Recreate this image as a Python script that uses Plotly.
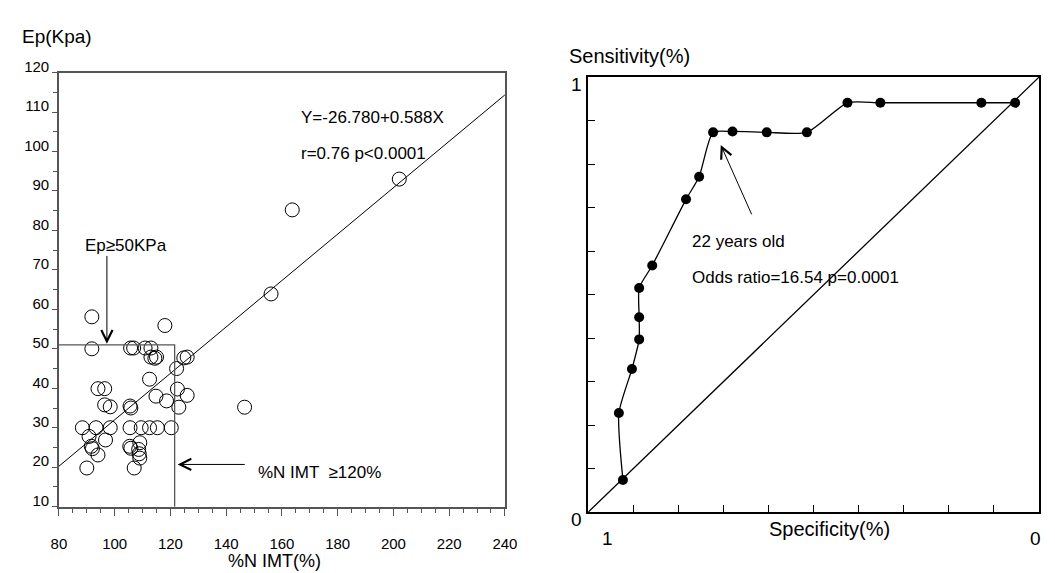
import plotly.graph_objects as go

# ---------------- data: left scatter (%N IMT vs Ep) ----------------
imt_pct = [91.8, 118.0, 91.8, 105.7, 106.8, 110.9, 113.0, 113.0, 114.4, 115.0,
           124.8, 126.0, 122.2, 112.5, 122.5, 126.0, 114.8, 118.6, 123.0, 146.6,
           94.0, 96.4, 96.4, 98.4, 105.5, 105.8, 88.4, 93.3, 98.4, 105.5,
           109.5, 112.5, 115.3, 120.3, 90.8, 96.7, 91.6, 92.0, 94.0, 105.4,
           105.8, 109.0, 108.6, 108.8, 109.0, 90.0, 107.0, 202.1, 163.7, 156.1]
ep_kpa = [58.1, 55.9, 50.0, 50.2, 50.2, 50.2, 50.2, 47.9, 47.6, 47.9,
          47.7, 47.9, 45.0, 42.3, 39.8, 38.2, 38.0, 36.8, 35.2, 35.2,
          39.9, 39.9, 35.8, 35.3, 35.5, 35.0, 30.0, 30.0, 30.0, 30.0,
          30.0, 30.0, 30.0, 30.0, 27.8, 26.9, 25.3, 24.7, 23.1, 25.3,
          24.8, 26.2, 24.5, 23.4, 22.3, 19.8, 19.8, 93.0, 85.2, 63.9]

reg_intercept = -26.780
reg_slope = 0.588
reg_x = [80, 240]
reg_y = [reg_intercept + reg_slope * v for v in reg_x]

cut_imt = 121.5     # %N IMT cut-off line
cut_ep = 51.0       # Ep cut-off line
x_min, y_min = 80, 10

x_ticks = [80, 100, 120, 140, 160, 180, 200, 220, 240]
y_ticks = [10, 20, 30, 40, 50, 60, 70, 80, 90, 100, 110, 120]

# ---------------- data: right ROC curve ----------------
specificity = [0.923, 0.932, 0.903, 0.887, 0.887, 0.887, 0.858, 0.783, 0.754,
               0.723, 0.680, 0.604, 0.515, 0.425, 0.352, 0.128, 0.053]
sensitivity = [0.074, 0.228, 0.329, 0.397, 0.448, 0.515, 0.567, 0.719, 0.771,
               0.873, 0.875, 0.873, 0.873, 0.941, 0.941, 0.941, 0.941]
diag_spec = [1, 0]
diag_sens = [0, 1]

FONT = "Liberation Sans, Arial, sans-serif"
W, H = 1055, 573

fig = go.Figure()

# left: scatter
fig.add_trace(go.Scatter(x=imt_pct, y=ep_kpa, mode="markers",
                         marker=dict(symbol="circle-open", size=14, color="black",
                                     line=dict(width=1, color="black")),
                         xaxis="x", yaxis="y", showlegend=False, hoverinfo="x+y"))
fig.add_trace(go.Scatter(x=reg_x, y=reg_y, mode="lines",
                         line=dict(color="black", width=1),
                         xaxis="x", yaxis="y", showlegend=False))
fig.add_trace(go.Scatter(x=[x_min, cut_imt, cut_imt], y=[cut_ep, cut_ep, y_min], mode="lines",
                         line=dict(color="#555555", width=1.3),
                         xaxis="x", yaxis="y", showlegend=False))

# right: ROC
fig.add_trace(go.Scatter(x=diag_spec, y=diag_sens, mode="lines",
                         line=dict(color="black", width=1.3),
                         xaxis="x2", yaxis="y2", showlegend=False))
fig.add_trace(go.Scatter(x=specificity, y=sensitivity, mode="lines+markers",
                         line=dict(color="black", width=1.3, shape="spline", smoothing=0.6),
                         marker=dict(symbol="circle", size=10, color="black"),
                         xaxis="x2", yaxis="y2", showlegend=False))

def px(x):
    return x / W

def py(y):
    return 1 - y / H

ann = []
# left annotations
ann.append(dict(text="Ep(Kpa)", x=px(12), y=py(22), xref="paper", yref="paper",
                xanchor="left", yanchor="middle", showarrow=False, font=dict(size=19)))
ann.append(dict(text="%N IMT(%)", x=px(272), y=py(563), xref="paper", yref="paper",
                xanchor="center", yanchor="middle", showarrow=False, font=dict(size=18)))
ann.append(dict(text="Y=-26.780+0.588X", x=166.1, y=108.5, xref="x", yref="y",
                xanchor="left", yanchor="middle", showarrow=False, font=dict(size=17)))
ann.append(dict(text="r=0.76 p&lt;0.0001", x=166.1, y=99.4, xref="x", yref="y",
                xanchor="left", yanchor="middle", showarrow=False, font=dict(size=17)))
ann.append(dict(text="Ep≥50KPa", x=88.8, y=76.1, xref="x", yref="y",
                xanchor="left", yanchor="middle", showarrow=False, font=dict(size=17)))
ann.append(dict(text="", x=97.2, y=51.3, ax=97.2, ay=73.9, xref="x", yref="y",
                axref="x", ayref="y", showarrow=True, arrowhead=5, arrowsize=2.2,
                arrowwidth=1, arrowcolor="black"))
ann.append(dict(text="%N IMT  ≥120%", x=150.7, y=18.6, xref="x", yref="y",
                xanchor="left", yanchor="middle", showarrow=False, font=dict(size=17)))
ann.append(dict(text="", x=122.6, y=20.7, ax=147.2, ay=20.7, xref="x", yref="y",
                axref="x", ayref="y", showarrow=True, arrowhead=5, arrowsize=2.2,
                arrowwidth=1, arrowcolor="black"))

# right annotations
ann.append(dict(text="Sensitivity(%)", x=px(570), y=py(42), xref="paper", yref="paper",
                xanchor="left", yanchor="middle", showarrow=False, font=dict(size=20)))
ann.append(dict(text="1", x=px(580), y=py(72), xref="paper", yref="paper",
                xanchor="center", yanchor="middle", showarrow=False, font=dict(size=19)))
ann.append(dict(text="0", x=px(580), y=py(520), xref="paper", yref="paper",
                xanchor="center", yanchor="middle", showarrow=False, font=dict(size=19)))
ann.append(dict(text="1", x=px(612), y=py(540), xref="paper", yref="paper",
                xanchor="center", yanchor="middle", showarrow=False, font=dict(size=19)))
ann.append(dict(text="0", x=px(1048), y=py(540), xref="paper", yref="paper",
                xanchor="center", yanchor="middle", showarrow=False, font=dict(size=19)))
ann.append(dict(text="Specificity(%)", x=px(838), y=py(530), xref="paper", yref="paper",
                xanchor="center", yanchor="middle", showarrow=False, font=dict(size=20)))
ann.append(dict(text="22 years old", x=0.774, y=0.621, xref="x2", yref="y2",
                xanchor="left", yanchor="middle", showarrow=False, font=dict(size=17)))
ann.append(dict(text="Odds ratio=16.54 p=0.0001", x=0.774, y=0.539, xref="x2", yref="y2",
                xanchor="left", yanchor="middle", showarrow=False, font=dict(size=17)))
ann.append(dict(text="", x=0.706, y=0.844, ax=0.636, ay=0.681, xref="x2", yref="y2",
                axref="x2", ayref="y2", showarrow=True, arrowhead=5, arrowsize=2.2,
                arrowwidth=1, arrowcolor="black"))

fig.update_layout(
    width=W, height=H,
    margin=dict(l=0, r=0, t=0, b=0, pad=0),
    paper_bgcolor="white", plot_bgcolor="white",
    font=dict(family=FONT, color="black", size=15),
    annotations=ann,
    xaxis=dict(domain=[52 / W, 507 / W], range=[80, 240], tickvals=x_ticks,
               ticks="outside", ticklen=8, tickcolor="#555555", tickwidth=1,
               minor=dict(dtick=5, ticks="outside", ticklen=5, tickcolor="#555555"),
               showline=True, linecolor="#555555", linewidth=1.5, mirror=True,
               showgrid=False, zeroline=False, tickfont=dict(size=15),
               ticklabelstandoff=15, anchor="y"),
    yaxis=dict(domain=[1 - 506.7 / H, 1 - 59.3 / H], range=[10, 120], tickvals=y_ticks,
               ticks="outside", ticklen=5, tickcolor="#555555", tickwidth=1,
               minor=dict(dtick=5, ticks="outside", ticklen=4, tickcolor="#555555"),
               showline=True, linecolor="#555555", linewidth=1.5, mirror=True,
               showgrid=False, zeroline=False, tickfont=dict(size=15),
               ticklabelshift=-6, anchor="x"),
    xaxis2=dict(domain=[592 / W, 1052 / W], range=[1, 0], dtick=0.1, tick0=0,
                ticks="inside", ticklen=7, tickcolor="black", tickwidth=1.3,
                showline=True, linecolor="black", linewidth=2, mirror=True,
                showgrid=False, zeroline=False, showticklabels=False, anchor="y2"),
    yaxis2=dict(domain=[1 - 512.3 / H, 1 - 64 / H], range=[0, 1], dtick=0.1, tick0=0,
                ticks="inside", ticklen=7, tickcolor="black", tickwidth=1.3,
                showline=True, linecolor="black", linewidth=2, mirror=True,
                showgrid=False, zeroline=False, showticklabels=False, anchor="x2"),
)

fig.write_html(
    "out.html",
    config={"displayModeBar": False},
    post_script=("document.documentElement.style.overflow='hidden';"
                 "document.body.style.margin='0';document.body.style.overflow='hidden';"),
)
